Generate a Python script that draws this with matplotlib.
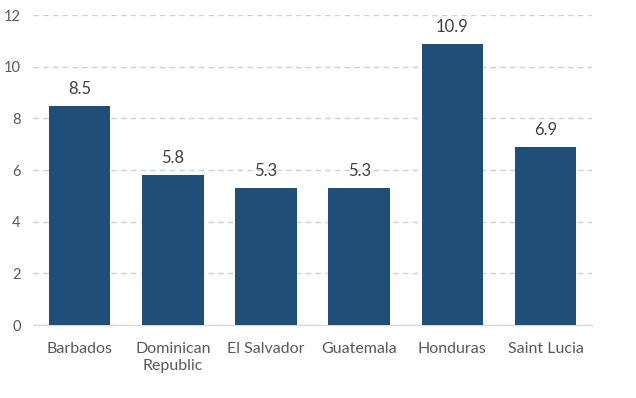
import matplotlib.pyplot as plt

countries = ["Barbados", "Dominican\nRepublic", "El Salvador", "Guatemala", "Honduras", "Saint Lucia"]
values = [8.5, 5.8, 5.3, 5.3, 10.9, 6.9]
yticks = [0, 2, 4, 6, 8, 10, 12]

plt.rcParams["font.family"] = ["Lato", "DejaVu Sans"]

fig = plt.figure(figsize=(6.36, 3.98), dpi=100)
ax = fig.add_axes([0.052, 0.183, 0.879, 0.779])

x = range(len(countries))
bars = ax.bar(x, values, width=0.66, color="#1F4E79", zorder=3)

# value labels above bars
for b, v in zip(bars, values):
    ax.text(b.get_x() + b.get_width() / 2, v + 0.35, f"{v:.1f}",
            ha="center", va="bottom", fontsize=12, color="#404040")

ax.set_xlim(-0.5, len(countries) - 0.5)
ax.set_ylim(0, 12)
ax.set_yticks(yticks)
ax.set_xticks(list(x))
ax.set_xticklabels(countries, fontsize=11.5, color="#595959", linespacing=1.25)
ax.tick_params(axis="y", labelsize=10.5, colors="#595959", length=0, pad=9)
ax.tick_params(axis="x", length=0, pad=12)

ax.yaxis.grid(True, color="#D0D0D0", linestyle=(0, (4, 3)), linewidth=1, zorder=0)
for side in ["top", "right", "left"]:
    ax.spines[side].set_visible(False)
ax.spines["bottom"].set_color("#D9D9D9")
ax.spines["bottom"].set_linewidth(1)

fig.savefig("out.png", dpi=100)
